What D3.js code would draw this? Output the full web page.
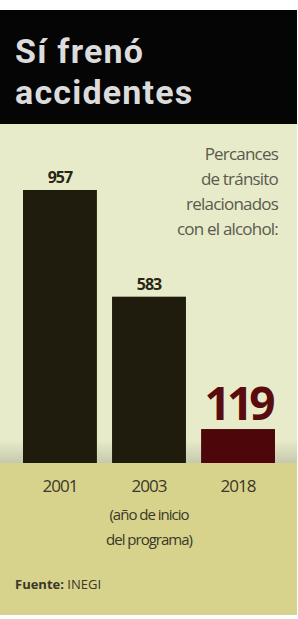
<!DOCTYPE html>
<html>
<head>
<meta charset="utf-8">
<script src="https://cdn.jsdelivr.net/npm/d3@7"></script>
<style>
  body { margin: 0; background: #fff; }
  svg { display: block; font-family: "Open Sans", "DejaVu Sans", sans-serif; }
</style>
</head>
<body>
<script>
// data
var years = ["2001", "2003", "2018"];
var values = [957, 583, 119];
var titleLines = ["Sí frenó", "accidentes"];
var noteLines = ["Percances", "de tránsito", "relacionados", "con el alcohol:"];
var subLines = ["(año de inicio", "del programa)"];

var svgWidth = 298;
var svgHeight = 619;

var baseY = 463;

var svg = d3.select("body").append("svg")
    .attr("width", svgWidth)
    .attr("height", svgHeight);

// shading near the base of the bars
var defs = svg.append("defs");
var grad = defs.append("linearGradient")
    .attr("id", "shade")
    .attr("x1", 0).attr("y1", 0).attr("x2", 0).attr("y2", 1);
grad.append("stop").attr("offset", "0%").attr("stop-color", "#8a8a78").attr("stop-opacity", 0);
grad.append("stop").attr("offset", "100%").attr("stop-color", "#8a8a78").attr("stop-opacity", 0.35);

// backgrounds
svg.append("rect").attr("x", 0).attr("y", 124).attr("width", 297).attr("height", baseY - 124)
    .attr("fill", "#e7ebc9");
svg.append("rect").attr("x", 0).attr("y", 440).attr("width", 297).attr("height", baseY - 440)
    .attr("fill", "url(#shade)");
svg.append("rect").attr("x", 0).attr("y", baseY).attr("width", 297).attr("height", 615 - baseY)
    .attr("fill", "#d7d28c");
svg.append("rect").attr("x", 0).attr("y", 10).attr("width", 297).attr("height", 114)
    .attr("fill", "#050505");

// title
svg.append("g").selectAll("text")
    .data(titleLines)
    .enter()
    .append("text")
    .attr("x", 15)
    .attr("y", (d, i) => 63 + i * 41)
    .attr("fill", "#dcdcdc")
    .attr("font-family", "Roboto, sans-serif")
    .attr("font-size", 34)
    .attr("font-weight", "bold")
    .attr("letter-spacing", 1.2)
    .text(d => d);

// scales
var xBandScale = d3.scaleBand()
    .domain(years)
    .range([23, 275])
    .paddingInner(0.17)
    .paddingOuter(0);

var yLinearScale = d3.scaleLinear()
    .domain([0, 957])
    .range([baseY, 190]);

var barColor = d => d === "2018" ? "#4d0609" : "#1f1b0d";

svg.append("g").selectAll("rect")
    .data(years)
    .enter()
    .append("rect")
    .attr("x", d => xBandScale(d))
    .attr("y", (d, i) => yLinearScale(values[i]))
    .attr("width", xBandScale.bandwidth())
    .attr("height", (d, i) => baseY - yLinearScale(values[i]))
    .attr("fill", barColor);

// value labels
svg.append("g").selectAll("text")
    .data(years)
    .enter()
    .append("text")
    .attr("x", d => xBandScale(d) + xBandScale.bandwidth() / 2)
    .attr("y", (d, i) => yLinearScale(values[i]) - (d === "2018" ? 9 : 7))
    .attr("text-anchor", "middle")
    .attr("fill", d => d === "2018" ? "#5a0b0d" : "#2a2616")
    .attr("font-size", d => d === "2018" ? 46 : 16)
    .attr("font-weight", "bold")
    .attr("letter-spacing", d => d === "2018" ? -4 : -1)
    .text((d, i) => values[i]);

// note
svg.append("g").selectAll("text")
    .data(noteLines)
    .enter()
    .append("text")
    .attr("x", 278)
    .attr("y", (d, i) => 160 + i * 25)
    .attr("text-anchor", "end")
    .attr("fill", "#5a5a4e")
    .attr("font-size", 17)
    .attr("letter-spacing", -0.8)
    .text(d => d);

// x axis
var bottomAxis = d3.axisBottom(xBandScale).tickSize(0).tickPadding(0);
var xAxis = svg.append("g")
    .attr("transform", `translate(0, ${baseY})`)
    .call(bottomAxis);
xAxis.select(".domain").remove();
xAxis.selectAll("text")
    .attr("dy", 0)
    .attr("y", 29)
    .attr("fill", "#3a3828")
    .attr("font-size", 17)
    .attr("letter-spacing", -1)
    .attr("font-family", "\"Open Sans\", sans-serif");

svg.append("g").selectAll("text")
    .data(subLines)
    .enter()
    .append("text")
    .attr("x", xBandScale("2003") + xBandScale.bandwidth() / 2)
    .attr("y", (d, i) => 520 + i * 25)
    .attr("text-anchor", "middle")
    .attr("fill", "#3a3828")
    .attr("font-size", 15)
    .attr("letter-spacing", -1)
    .text(d => d);

// source
var src = svg.append("text")
    .attr("x", 15)
    .attr("y", 589)
    .attr("fill", "#3a3828")
    .attr("font-size", 13);
src.append("tspan").attr("font-weight", "bold").text("Fuente: ");
src.append("tspan").text("INEGI");
</script>
</body>
</html>
